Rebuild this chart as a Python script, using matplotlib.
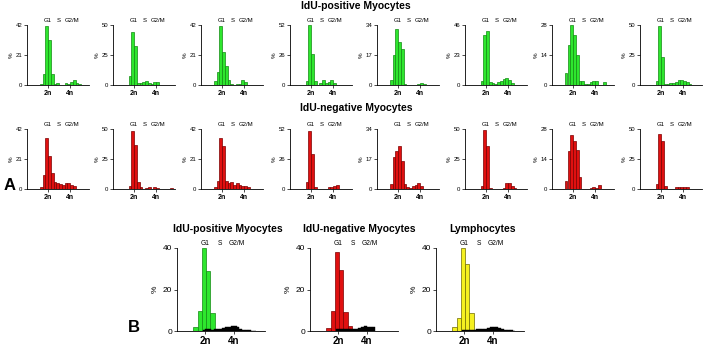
import numpy as np
import matplotlib
matplotlib.use('Agg')
import matplotlib.pyplot as plt

plt.rcParams['font.family'] = ['Liberation Sans', 'DejaVu Sans']

# Small panels (A): bins of 0.25 in units of DNA content (2n = 2, 4n = 4)
bins_a = [1.125, 1.375, 1.625, 1.875, 2.125, 2.375, 2.625, 2.875, 3.125,
          3.375, 3.625, 3.875, 4.125, 4.375, 4.625, 4.875, 5.125, 5.375]

pos_tops = [42, 50, 42, 52, 34, 46, 28, 50]
pos_hist = [
    [0, 1.0, 7.4, 41.3, 31.5, 7.4, 0.5, 1.6, 0, 0, 1.6, 1.0, 2.0, 3.5, 1.2, 0.7, 0, 0],
    [0, 0, 7.7, 44.0, 32.6, 2.0, 1.4, 2.2, 3.6, 1.4, 0.8, 2.8, 2.2, 0, 0, 0, 0, 0],
    [0, 3.0, 8.8, 41.3, 23.4, 13.5, 3.7, 0.9, 0.2, 0.7, 1.0, 3.7, 2.3, 0, 0, 0, 0, 0],
    [0, 0, 3.7, 52.0, 27.0, 3.2, 0.3, 1.7, 4.3, 1.7, 2.9, 4.0, 1.7, 0, 0, 0, 0, 0],
    [0, 2.8, 17.1, 31.6, 24.5, 20.4, 0.7, 0, 0, 0, 0, 0.7, 1.1, 0.5, 0, 0, 0, 0],
    [0, 0, 3.0, 38.2, 41.5, 2.5, 1.5, 1.0, 2.0, 3.0, 4.5, 5.0, 3.5, 1.5, 0, 0, 0, 0],
    [0, 5.8, 18.7, 27.9, 23.4, 13.9, 1.8, 1.8, 0.6, 0.6, 1.5, 1.8, 1.8, 0, 0, 1.2, 0, 0],
    [0, 0, 3.0, 49.2, 23.5, 0.8, 0.5, 1.6, 1.6, 2.2, 3.8, 3.8, 3.3, 2.2, 1.0, 0, 0, 0],
]

neg_tops = [42, 50, 42, 52, 34, 50, 28, 50]
neg_hist = [
    [0, 1.6, 10.0, 35.7, 23.3, 11.2, 4.9, 4.2, 3.5, 2.6, 4.4, 4.0, 3.0, 2.1, 0, 0, 0, 0],
    [0, 0, 2.8, 48.6, 36.4, 5.6, 1.9, 0.3, 0.8, 1.4, 0.3, 1.4, 0.5, 0, 0, 0, 0, 0.8],
    [0, 1.2, 5.8, 35.7, 29.9, 5.8, 4.2, 4.9, 3.0, 4.0, 2.6, 2.3, 1.9, 1.2, 0, 0, 0, 0],
    [0, 0, 5.8, 50.6, 30.6, 1.7, 0, 0, 0, 0, 2.0, 2.0, 2.6, 3.5, 0, 0, 0, 0],
    [0, 2.8, 18.1, 21.7, 24.2, 15.7, 2.8, 0.9, 0.6, 1.5, 2.5, 3.6, 1.7, 0, 0, 0, 0, 0],
    [0, 0, 2.8, 49.4, 35.6, 0.8, 0, 0, 0, 0, 0.5, 4.7, 5.3, 2.2, 0.8, 0, 0, 0],
    [0, 3.7, 17.9, 25.4, 22.2, 18.4, 5.8, 0.2, 0, 0, 0.6, 0.8, 0.5, 2.0, 0, 0, 0, 0],
    [0, 0, 3.9, 46.1, 39.7, 2.5, 0, 0, 0, 1.4, 1.4, 1.4, 1.4, 1.4, 0, 0, 0, 0],
]

# Pooled panels (B)
bins_b = [1.3, 1.6, 1.9, 2.2, 2.5, 2.8]
pool_titles = ['IdU-positive Myocytes', 'IdU-negative Myocytes', 'Lymphocytes']
pool_hist = [
    [1.8, 9.4, 40.0, 29.0, 8.5, 0],
    [1.3, 9.5, 38.0, 29.5, 9.0, 2.5],
    [1.8, 6.1, 40.0, 32.3, 8.5, 0.6],
]
bins_black = [1.9, 2.1, 2.3, 2.5, 2.7, 2.9, 3.1, 3.3, 3.5, 3.7,
              3.9, 4.1, 4.3, 4.5, 4.7, 4.9, 5.1, 5.3, 5.5]
black_hist = [
    [0.6, 0.8, 0.8, 0.7, 0.8, 0.9, 1.2, 1.4, 1.8, 2.1, 2.4, 2.3, 1.7, 1.0, 0.6, 0.4, 0.3, 0.2, 0.1],
    [0.8, 0.9, 0.9, 0.8, 1.0, 1.0, 1.0, 1.1, 1.3, 1.9, 2.2, 2.1, 1.9, 1.8, 0, 0, 0, 0, 0],
    [0.4, 0.5, 0.5, 0.5, 0.6, 0.8, 0.8, 0.9, 1.0, 1.3, 1.9, 2.1, 1.8, 1.4, 1.0, 0.6, 0.4, 0.3, 0.2],
]

phase_labels = ['G1', 'S', 'G2/M']
phase_x = [2.0, 3.0, 4.2]

green = ('#2ee62e', '#138a13')
red = ('#e01010', '#7a0000')
yellow = ('#f5f020', '#6e6a00')

W, H = 712, 352
fig = plt.figure(figsize=(W / 100, H / 100), dpi=100)


def box(x, top, w, h):
    return [x / W, 1 - (top + h) / H, w / W, h / H]


def style(ax, xlim, ylim, fs, fsx):
    for s in ['top', 'right']:
        ax.spines[s].set_visible(False)
    for s in ['left', 'bottom']:
        ax.spines[s].set_linewidth(0.6)
    ax.set_xlim(*xlim)
    ax.set_ylim(0, ylim)
    ax.set_yticks([0, ylim / 2, ylim])
    ax.set_yticklabels(['0', '%g' % (ylim / 2), '%g' % ylim], fontsize=fs)
    ax.set_xticks([2, 4])
    ax.set_xticklabels(['2n', '4n'], fontsize=fsx, fontweight='bold')
    ax.tick_params(length=2, width=0.5, pad=1.5)


def small_panel(x, top, heights, ymax, colors):
    ax = fig.add_axes(box(x, top, 62, 60))
    hx = [b for b, v in zip(bins_a, heights) if v > 0]
    hv = [v for v in heights if v > 0]
    ax.bar(hx, hv, width=0.25, color=colors[0], edgecolor=colors[1], linewidth=0.5)
    style(ax, (0.1, 5.7), ymax, 4.3, 5)
    ax.set_ylabel('%', fontsize=4.5, labelpad=1)
    for lab, px in zip(phase_labels, phase_x):
        ax.text(px, 1.07, lab, transform=ax.get_xaxis_transform(),
                ha='center', va='center', fontsize=4.3)
    return ax


xs_a = [27, 113, 201, 290, 377, 465, 552, 640]
for i in range(8):
    small_panel(xs_a[i], 25, pos_hist[i], pos_tops[i], green)
    small_panel(xs_a[i], 129, neg_hist[i], neg_tops[i], red)

fig.text(356 / W, 1 - 6 / H, 'IdU-positive Myocytes', ha='center', va='center',
         fontsize=7.5, fontweight='bold')
fig.text(356 / W, 1 - 108 / H, 'IdU-negative Myocytes', ha='center', va='center',
         fontsize=7.5, fontweight='bold')
fig.text(10 / W, 1 - 186 / H, 'A', ha='center', va='center', fontsize=12, fontweight='bold')
fig.text(134 / W, 1 - 327 / H, 'B', ha='center', va='center', fontsize=12, fontweight='bold')

xs_b = [177, 310, 436]
title_x = [228, 359, 482]
pool_colors = [green, red, yellow]
for i in range(3):
    ax = fig.add_axes(box(xs_b[i], 248, 88, 83))
    c = pool_colors[i]
    ax.bar(bins_b, pool_hist[i], width=0.3, color=c[0], edgecolor=c[1], linewidth=0.5)
    bx = [b for b, v in zip(bins_black, black_hist[i]) if v > 0]
    bv = [v for v in black_hist[i] if v > 0]
    ax.bar(bx, bv, width=0.2, color='black', edgecolor='black', linewidth=0.3, zorder=3)
    style(ax, (0.0, 6.2), 40, 6, 7)
    ax.set_ylabel('%', fontsize=6, labelpad=3)
    for lab, px in zip(phase_labels, phase_x):
        ax.text(px, 1.06, lab, transform=ax.get_xaxis_transform(),
                ha='center', va='center', fontsize=4.8)
    fig.text(title_x[i] / W, 1 - 229 / H, pool_titles[i], ha='center', va='center',
             fontsize=7.5, fontweight='bold')

fig.savefig('out.png', dpi=100)
